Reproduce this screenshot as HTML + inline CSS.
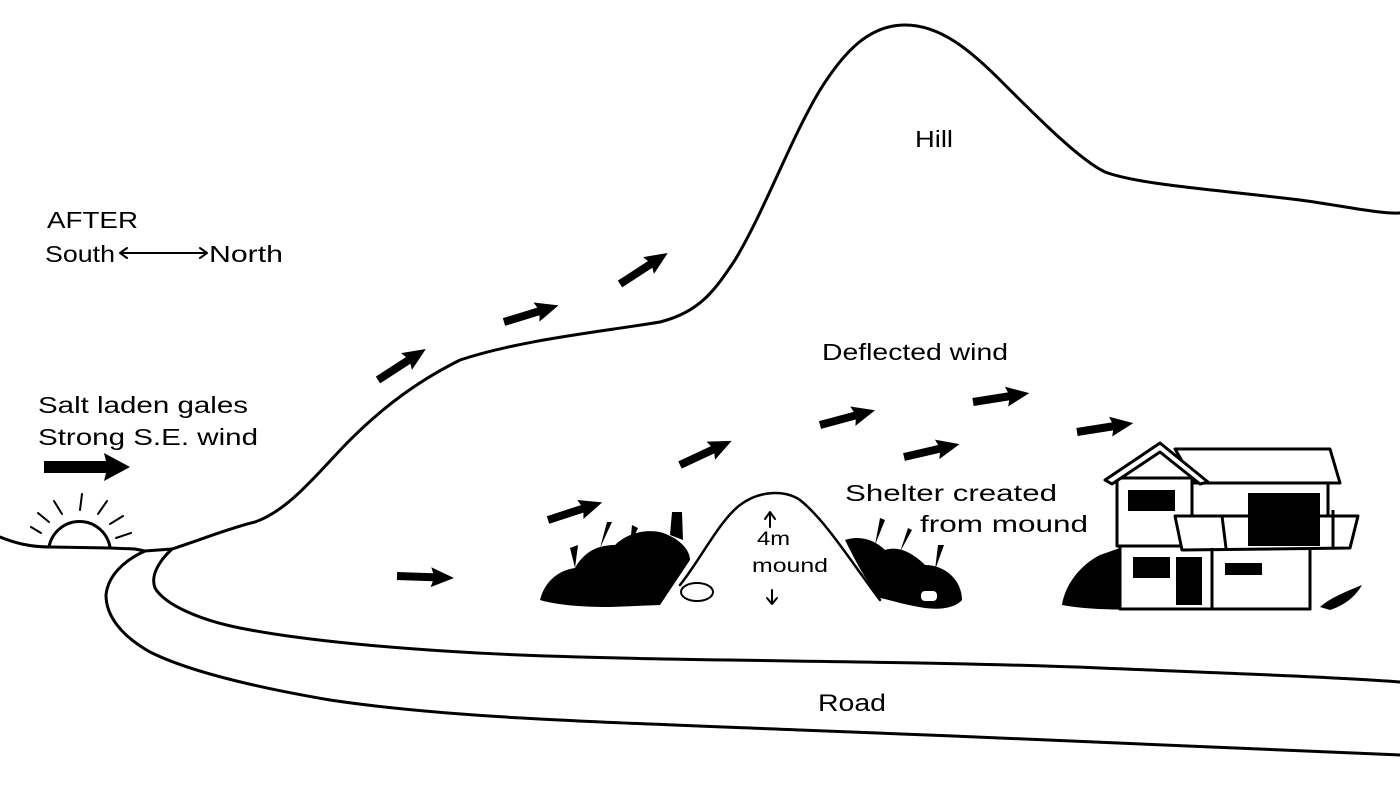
<!DOCTYPE html>
<html><head><meta charset="utf-8"><style>
html,body{margin:0;padding:0;background:#fff;}
svg{display:block}
text{font-family:"Liberation Sans",sans-serif;fill:#000;}
</style></head><body>
<svg width="1400" height="800" viewBox="0 0 1400 800" xmlns="http://www.w3.org/2000/svg">
<defs>
<g id="arr"><polygon points="0,-4 36,-4 34,-10 57,0 34,10 36,4 0,4"/></g>
</defs>
<g fill="none" stroke="#000" stroke-width="3" stroke-linecap="round" stroke-linejoin="round">
<path d="M0,537 C15,543 30,547 50,547 L110,548 L135,549 L145,551 L172,549"/>
<path d="M172,549 C200,540 230,528 255,522 C290,510 320,470 350,440 C385,405 420,380 460,360 C520,340 600,332 660,322 C700,312 715,290 735,260 C765,210 790,140 820,90 C845,50 870,25 905,25 C940,25 970,50 1000,80 C1040,120 1080,160 1105,172 C1140,185 1220,190 1300,200 C1350,207 1380,214 1400,213"/>
<path d="M172,549 C160,560 150,575 155,588 C165,605 200,620 240,628 C300,640 400,650 520,655 C700,662 900,660 1100,668 C1250,674 1350,678 1400,682"/>
<path d="M145,551 C125,560 108,575 106,595 C106,615 120,635 150,652 C190,672 260,688 330,700 C450,718 600,722 800,730 C1000,738 1200,745 1400,755"/>
<path d="M49,547 A31,31 0 0 1 110,547"/>
<path d="M31,527 L41,533 M38,513 L49,522 M54,501 L62,514 M82,494 L80,510 M107,501 L98,514 M123,516 L110,524 M131,533 L116,538" stroke-width="2"/>
<path d="M120,253 L207,253 M127,248 L120,253 L127,258 M200,248 L207,253 L200,258" stroke-width="2"/>
<path d="M680,585 C700,560 720,520 740,505 C760,490 785,490 800,500 C825,520 850,560 880,600" stroke-width="2.5"/>
<path d="M770,527 L770,514 M765,519 L770,512 L775,519 M772,590 L772,603 M767,598 L772,604 L777,598" stroke-width="2"/>
<ellipse cx="697" cy="592" rx="16" ry="9" stroke-width="2"/>
</g>
<g fill="#000">
<polygon points="44,461 106,461 104,453 130,467 104,481 106,473 44,473"/>
<use href="#arr" transform="translate(378,380) rotate(-33)"/>
<use href="#arr" transform="translate(504,322) rotate(-17)"/>
<use href="#arr" transform="translate(620,284) rotate(-33)"/>
<use href="#arr" transform="translate(397,576) rotate(2)"/>
<use href="#arr" transform="translate(548,520) rotate(-18)"/>
<use href="#arr" transform="translate(680,465) rotate(-25)"/>
<use href="#arr" transform="translate(820,425) rotate(-15)"/>
<use href="#arr" transform="translate(904,457) rotate(-13)"/>
<use href="#arr" transform="translate(973,402) rotate(-9)"/>
<use href="#arr" transform="translate(1077,432) rotate(-9)"/>
</g>
<g fill="#000">
<path d="M540,600 C545,580 560,570 575,568 C585,550 600,545 615,545 C630,530 655,528 668,535 C680,540 690,550 690,560 C680,575 670,590 660,605 L610,607 C590,607 560,606 540,600 Z"/>
<path d="M845,540 C860,535 875,540 885,550 C900,545 915,555 925,565 C945,565 962,580 962,600 C955,608 940,610 925,608 C905,605 890,600 880,598 C865,580 855,560 845,540 Z"/>
<path d="M1062,605 C1065,585 1080,565 1100,555 L1120,548 L1120,605 L1175,605 C1160,610 1100,612 1062,605 Z"/>
<path d="M1320,607 C1330,598 1345,592 1362,585 C1355,597 1345,605 1330,610 Z"/>
<path d="M575,568 L570,548 L578,545 Z M600,548 L607,522 L612,522 Z M630,545 L632,525 L638,528 Z M670,535 L672,512 L682,512 L683,540 Z M875,545 L880,518 L885,520 Z M900,552 L908,528 L912,530 Z M935,570 L938,545 L944,545 Z" />
</g>
<rect x="920" y="590" width="18" height="12" rx="5" fill="#fff" stroke="#000" stroke-width="2"/>
<g fill="#fff" stroke="#000" stroke-width="3" stroke-linejoin="round">
<rect x="1120" y="545" width="190" height="64"/>
<rect x="1117" y="478" width="75" height="68"/>
<rect x="1192" y="483" width="136" height="65"/>
<polygon points="1175,449 1330,449 1340,483 1195,483"/>
<polygon points="1105,480 1160,443 1208,482 1200,484 1160,452 1112,484"/>
<polygon points="1175,516 1358,516 1350,548 1182,550"/>
<line x1="1212" y1="548" x2="1212" y2="610"/>
<line x1="1310" y1="548" x2="1310" y2="610"/>
<line x1="1222" y1="516" x2="1226" y2="548"/>
<line x1="1333" y1="510" x2="1333" y2="548"/>
</g>
<g fill="#000">
<rect x="1248" y="493" width="72" height="53"/>
<rect x="1128" y="490" width="47" height="21"/>
<rect x="1133" y="557" width="37" height="21"/>
<rect x="1176" y="557" width="26" height="48"/>
<rect x="1225" y="563" width="37" height="12"/>
</g>
<g font-size="23" lengthAdjust="spacingAndGlyphs">
<text x="915" y="147" textLength="38" lengthAdjust="spacingAndGlyphs">Hill</text>
<text x="47" y="228" textLength="91" lengthAdjust="spacingAndGlyphs">AFTER</text>
<text x="45" y="262" textLength="70" lengthAdjust="spacingAndGlyphs">South</text>
<text x="209" y="262" textLength="74" lengthAdjust="spacingAndGlyphs">North</text>
<text x="38" y="413" textLength="210" lengthAdjust="spacingAndGlyphs">Salt laden gales</text>
<text x="38" y="445" textLength="220" lengthAdjust="spacingAndGlyphs">Strong S.E. wind</text>
<text x="822" y="360" textLength="186" lengthAdjust="spacingAndGlyphs">Deflected wind</text>
<text x="845" y="501" textLength="212" lengthAdjust="spacingAndGlyphs">Shelter created</text>
<text x="920" y="532" textLength="168" lengthAdjust="spacingAndGlyphs">from mound</text>
<text x="818" y="711" font-size="24" textLength="68" lengthAdjust="spacingAndGlyphs">Road</text>
<text x="757" y="545" font-size="19" textLength="33" lengthAdjust="spacingAndGlyphs">4m</text>
<text x="752" y="572" font-size="19" textLength="76" lengthAdjust="spacingAndGlyphs">mound</text>
</g>
</svg>
</body></html>
